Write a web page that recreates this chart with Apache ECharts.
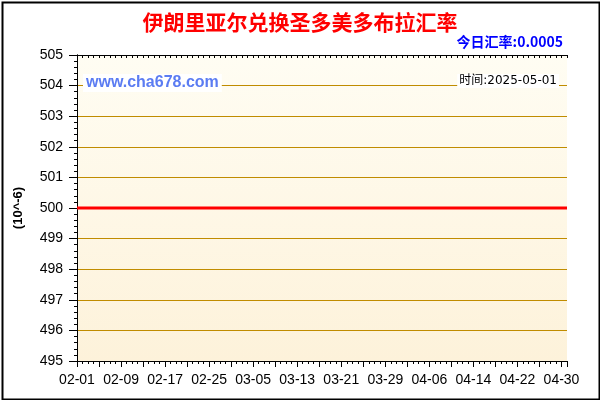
<!DOCTYPE html>
<html>
<head>
<meta charset="utf-8">
<script src="https://cdn.jsdelivr.net/npm/echarts@6/dist/echarts.min.js"></script>
<style>
  html, body { margin: 0; padding: 0; background: #fff; }
  #chart { width: 600px; height: 400px; }
</style>
</head>
<body>
<div id="chart"></div>
<script>
// 日期 02-01 ~ 05-01
const days = [
  '02-01','02-02','02-03','02-04','02-05','02-06','02-07','02-08','02-09','02-10',
  '02-11','02-12','02-13','02-14','02-15','02-16','02-17','02-18','02-19','02-20',
  '02-21','02-22','02-23','02-24','02-25','02-26','02-27','02-28',
  '03-01','03-02','03-03','03-04','03-05','03-06','03-07','03-08','03-09','03-10',
  '03-11','03-12','03-13','03-14','03-15','03-16','03-17','03-18','03-19','03-20',
  '03-21','03-22','03-23','03-24','03-25','03-26','03-27','03-28','03-29','03-30','03-31',
  '04-01','04-02','04-03','04-04','04-05','04-06','04-07','04-08','04-09','04-10',
  '04-11','04-12','04-13','04-14','04-15','04-16','04-17','04-18','04-19','04-20',
  '04-21','04-22','04-23','04-24','04-25','04-26','04-27','04-28','04-29','04-30',
  '05-01'
];
// 汇率 (10^-6)
const rates = [
  500,500,500,500,500,500,500,500,500,500,
  500,500,500,500,500,500,500,500,500,500,
  500,500,500,500,500,500,500,500,
  500,500,500,500,500,500,500,500,500,500,
  500,500,500,500,500,500,500,500,500,500,
  500,500,500,500,500,500,500,500,500,500,500,
  500,500,500,500,500,500,500,500,500,500,
  500,500,500,500,500,500,500,500,500,500,
  500,500,500,500,500,500,500,500,500,500,
  500
];
const yTicks = { min: 495, max: 505, step: 1 };
const titleText = '伊朗里亚尔兑换圣多美多布拉汇率';
const todayText = '今日汇率:0.0005';
const timeText = '时间:2025-05-01';
const siteText = 'www.cha678.com';

const fontEn = '"Liberation Sans", Arial, sans-serif';
const fontCn = '"Noto Sans CJK SC", "Liberation Sans", sans-serif';
const fontTime = '"DejaVu Sans", "Noto Sans CJK SC", sans-serif';

const chart = echarts.init(document.getElementById('chart'));

const lastIdx = days.length - 1;
const seriesData = days.map((d, i) => [i, rates[i]]);

const option = {
  animation: false,
  backgroundColor: '#fff',
  title: [
    {
      text: titleText, left: 'center', top: 12, padding: 0,
      textStyle: { color: '#ff0000', fontSize: 21, fontWeight: 'bold', fontFamily: fontCn }
    },
    {
      text: todayText, right: 37, top: 35, padding: 0,
      textStyle: { color: '#0000ff', fontSize: 14, fontWeight: 'bold', fontFamily: fontCn }
    },
    {
      text: siteText, left: 83, top: 74, padding: [1, 3],
      backgroundColor: '#fff',
      textStyle: { color: '#5b7cf2', fontSize: 16, fontWeight: 'bold', fontFamily: fontEn }
    },
    {
      text: timeText, right: 41, top: 74, padding: [1, 2],
      backgroundColor: '#fff',
      textStyle: { color: '#000', fontSize: 12, fontWeight: 'normal', fontFamily: fontTime }
    }
  ],
  grid: {
    left: 77, right: 33, top: 55, bottom: 39,
    show: true, borderWidth: 0,
    backgroundColor: new echarts.graphic.LinearGradient(0, 0, 0, 1, [
      { offset: 0, color: '#fffdf3' },
      { offset: 1, color: '#fdf2da' }
    ])
  },
  xAxis: [
    {
      type: 'value', position: 'bottom', min: 0, max: lastIdx, interval: 4,
      axisLine: { show: true, lineStyle: { color: '#000', width: 1 } },
      axisTick: { show: true, length: 6, lineStyle: { color: '#000' } },
      minorTick: { show: true, splitNumber: 4, length: 3, lineStyle: { color: '#000' } },
      axisLabel: {
        color: '#000', fontSize: 14, fontFamily: fontEn, margin: 12,
        formatter: v => (v % 8 === 0 && days[v]) ? days[v] : ''
      },
      splitLine: { show: false }
    },
    {
      type: 'value', position: 'top', min: 0, max: lastIdx, interval: 1,
      axisLine: { show: true, lineStyle: { color: '#000', width: 1 } },
      axisTick: { show: true, inside: true, length: 3, lineStyle: { color: '#000' } },
      axisLabel: { show: false },
      splitLine: { show: false }
    }
  ],
  yAxis: [
    {
      type: 'value', position: 'left', min: yTicks.min, max: yTicks.max, interval: yTicks.step,
      name: '(10^-6)', nameLocation: 'middle', nameGap: 52,
      nameTextStyle: { color: '#000', fontSize: 13, fontWeight: 'bold', fontFamily: fontEn },
      axisLine: { show: true, lineStyle: { color: '#000', width: 1 } },
      axisTick: { show: true, length: 8, lineStyle: { color: '#000' } },
      minorTick: { show: true, splitNumber: 5, length: 3, lineStyle: { color: '#000' } },
      axisLabel: { color: '#000', fontSize: 14, fontFamily: fontEn, margin: 14 },
      splitLine: { show: true, lineStyle: { color: '#c08c00', width: 1 } }
    },
    {
      type: 'value', position: 'right', min: yTicks.min, max: yTicks.max, interval: yTicks.step,
      axisLine: { show: true, lineStyle: { color: '#000', width: 1 } },
      axisTick: { show: true, inside: true, length: 4, lineStyle: { color: '#000' } },
      minorTick: { show: true, splitNumber: 5, length: 3, lineStyle: { color: '#000' } },
      axisLabel: { show: false },
      splitLine: { show: false }
    }
  ],
  graphic: [
    {
      type: 'rect', left: 0, top: 0, silent: true, z: 100,
      shape: { x: 1, y: 1, width: 597, height: 397 },
      style: { fill: 'none', stroke: '#000', lineWidth: 2 }
    }
  ],
  series: [
    {
      type: 'line', xAxisIndex: 0, yAxisIndex: 0,
      data: seriesData,
      symbol: 'none',
      lineStyle: { color: '#ff0000', width: 3 },
      z: 3
    }
  ]
};

chart.setOption(option);
</script>
</body>
</html>
